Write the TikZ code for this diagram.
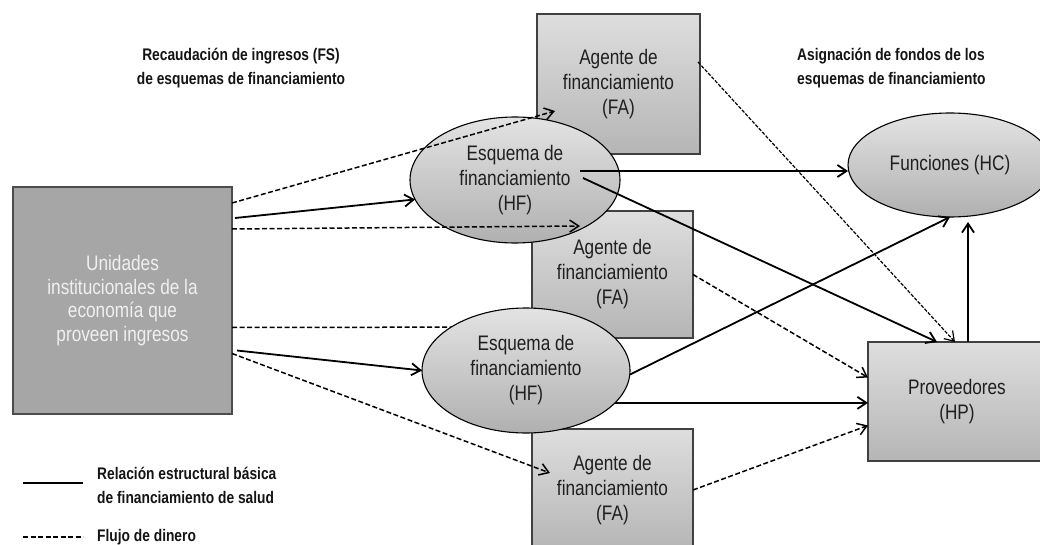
\documentclass[tikz,border=0pt]{standalone}
\usepackage{fontspec}
\setmainfont{Liberation Sans}[FakeStretch=0.82]
\usetikzlibrary{arrows.meta, shapes.geometric, calc, positioning}

\begin{document}
\begin{tikzpicture}[x=1pt, y=-1pt,
    >={Straight Barb[length=9pt,width=12pt]},
    txt/.style={text=black!88, font=\fontsize{21}{25}\selectfont, align=center},
    head/.style={text=black!92, font=\fontsize{16.8}{24}\selectfont\bfseries, inner sep=0},
    agentbox/.style={txt, rectangle, draw=black!75, line width=1.2pt, top color=black!13, bottom color=black!29,
        minimum width=161, minimum height=127, inner sep=0, outer sep=0},
    scheme/.style={txt, ellipse, draw=black, line width=1.1pt, top color=black!11, bottom color=black!31,
        minimum width=208, minimum height=125, inner sep=0, outer sep=0},
    flow/.style={->, line width=1.8pt},
    money/.style={->, line width=1.5pt, dash pattern=on 5pt off 2.5pt},
    fine/.style={line width=1.2pt, dash pattern=on 3.5pt off 1.5pt}]
                        \useasboundingbox (0,0) rectangle (1040,545);
                        \node[head, align=center] (fs) at (241,68) {Recaudación de ingresos (FS)\\de esquemas de financiamiento};
                        \node[head, align=left, anchor=west] (asig) at (797,68) {Asignación de fondos de los\\esquemas de financiamiento};

                        \node[agentbox, minimum width=163, minimum height=140] (fa1) at (618.5,84) {Agente de\\financiamiento\\(FA)};
                        \node[agentbox] (fa2) at (612.5,274.5) {Agente de\\financiamiento\\(FA)};
                        \node[agentbox, minimum height=122] (fa3) at (612.5,490) {Agente de\\financiamiento\\(FA)};
                        \node[txt, rectangle, draw=black!70, line width=1.2pt, fill=black!35, text=white!94!black,
                            font=\fontsize{21}{23.7}\selectfont, minimum width=219, minimum height=227,
                            inner sep=0, outer sep=0] (unid) at (122.5,300.5) {Unidades\\institucionales de la\\economía que\\proveen ingresos};
                        \node[agentbox, minimum width=178, minimum height=119] (prov) at (957,401.5) {Proveedores\\(HP)};

                        \draw[money] ($(unid.east)+(0,27)$) -- ($(fa2.south west)+(0,-11)$);

                        \node[scheme, minimum width=210, minimum height=126] (hf1) at (515,180) {Esquema de\\financiamiento\\(HF)};
                        \node[scheme] (hf2) at (526,370.5) {Esquema de\\financiamiento\\(HF)};
                        \node[scheme, minimum width=204, minimum height=104] (fun) at (950,165) {Funciones (HC)};

                        \coordinate (hf1out) at ($(hf1.center)+(65,-9)$);
                        \draw[money] ($(unid.north east)+(0,16)$) -- ($(fa1.south west)+(18,-43)$);
                        \draw[flow] ($(unid.north east)+(3,31)$) -- (hf1.191);
                        \draw[money] ($(unid.north east)+(0,42)$) -- ($(fa2.north west)+(48,15)$);
                        \draw[flow] ($(unid.east)+(5,50)$) -- (hf2.west);
                        \draw[money] ($(unid.east)+(0,53)$) -- ($(fa3.north west)+(18,44)$);

                        \draw[flow] (hf1out) -- (hf1out -| fun.west);
                        \draw[flow] ($(hf1.center)+(68,-2)$) -- ($(prov.north)+(-20,0)$);
                        \draw[money, fine] ($(fa1.east)+(-2,-22)$) -- ($(prov.north)+(-2,0)$);
                        \draw[money] (fa2.east) -- ($(prov.west)+(0,-24)$);
                        \draw[flow] ($(hf2.east)+(0,4)$) -- (fun.south);
                        \draw[flow] (hf2.-20) -- (hf2.-20 -| prov.west);
                        \draw[money] (fa3.east) -- ($(prov.west)+(0,24)$);
                        \draw[flow] ($(prov.north)+(11,0)$) -- ($(fun.south)+(18,5)$);

                        \node[head, align=left, anchor=west] (legflow) at (97,485) {Relación estructural básica\\de financiamiento de salud};
                        \node[head, anchor=west] (legmoney) at (97,537) {Flujo de dinero};
                        \draw[line width=1.8pt] ($(legflow.west)+(-74,-2)$) -- ($(legflow.west)+(-14,-2)$);
                        \draw[line width=1.5pt, dash pattern=on 5pt off 2.5pt] ($(legmoney.west)+(-74,0)$) -- ($(legmoney.west)+(-14,0)$);
                    \end{tikzpicture}
\end{document}
